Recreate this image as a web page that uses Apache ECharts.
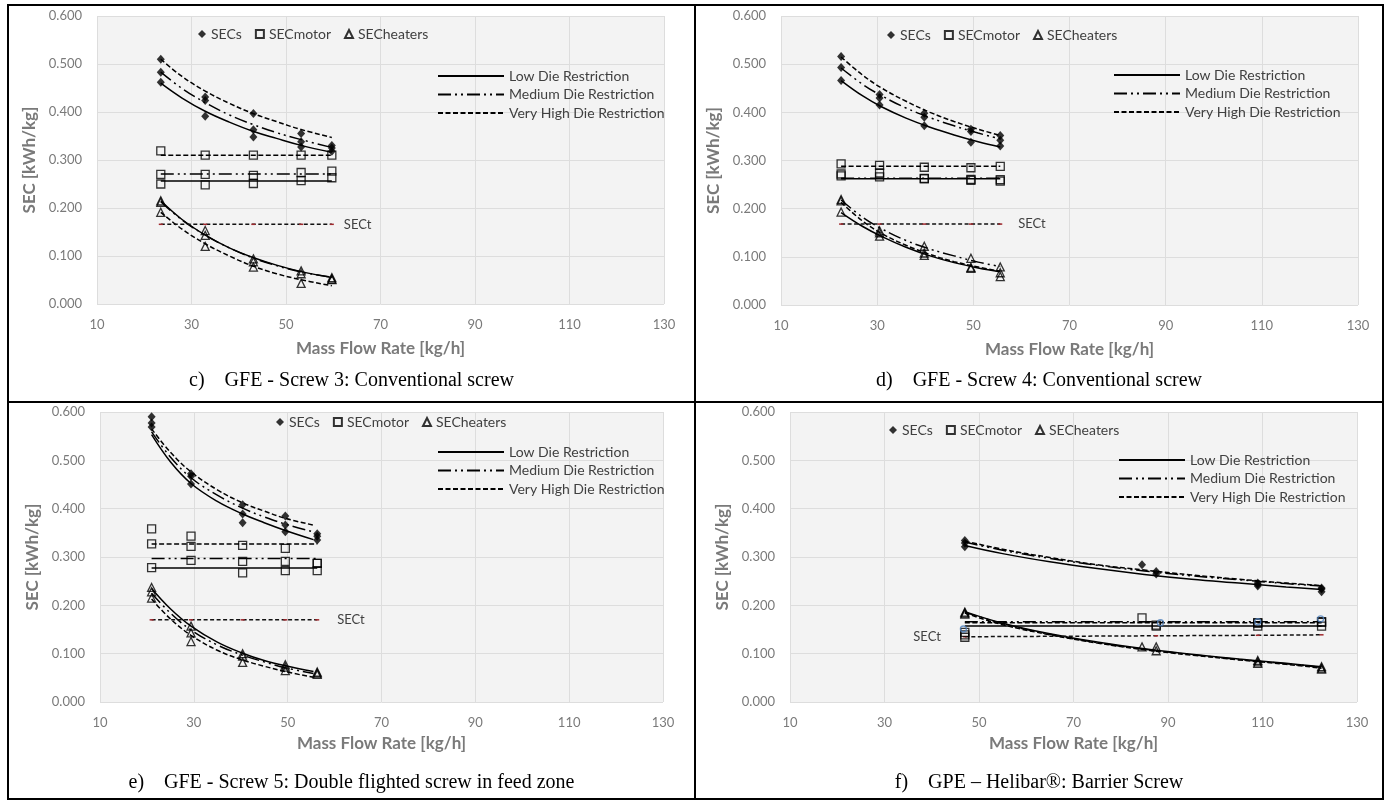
<!DOCTYPE html>
<html>
<head>
<meta charset="utf-8">
<script src="https://cdn.jsdelivr.net/npm/echarts@6/dist/echarts.min.js"></script>
<style>
  body { margin: 0; background: #fff; width: 1387px; height: 804px; position: relative; overflow: hidden; }
  .chart { position: absolute; }
  .rule { position: absolute; background: #000; }
  .cap { position: absolute; font-family: "Liberation Serif", serif; font-size: 20px; color: #000;
         white-space: pre; text-align: center; }
</style>
</head>
<body>
<div id="chartC" class="chart" style="left:0;top:0;width:695px;height:400px"></div>
<div id="chartD" class="chart" style="left:695px;top:0;width:692px;height:400px"></div>
<div id="chartE" class="chart" style="left:0;top:402px;width:695px;height:398px"></div>
<div id="chartF" class="chart" style="left:695px;top:402px;width:692px;height:398px"></div>

<div class="rule" style="left:7px;top:4px;width:1377px;height:2px"></div>
<div class="rule" style="left:7px;top:798px;width:1377px;height:2px"></div>
<div class="rule" style="left:7px;top:4px;width:2px;height:796px"></div>
<div class="rule" style="left:1382px;top:4px;width:2px;height:796px"></div>
<div class="rule" style="left:694px;top:4px;width:2px;height:796px"></div>
<div class="rule" style="left:7px;top:401px;width:1377px;height:2px"></div>

<div class="cap" style="left:9px;width:685px;top:368px">c)    GFE - Screw 3: Conventional screw</div>
<div class="cap" style="left:696px;width:686px;top:368px">d)    GFE - Screw 4: Conventional screw</div>
<div class="cap" style="left:9px;width:685px;top:770px">e)    GFE - Screw 5: Double flighted screw in feed zone</div>
<div class="cap" style="left:696px;width:686px;top:770px">f)    GPE – Helibar®: Barrier Screw</div>

<script>
// rows in every 3-row array: [Low, Medium, Very High] die restriction

// c) GFE - Screw 3
var cFlow = [23.5, 32.9, 43.1, 53.2, 59.7];
var cSecs = [[0.462, 0.391, 0.348, 0.327, 0.318],
             [0.483, 0.424, 0.363, 0.338, 0.325],
             [0.510, 0.431, 0.397, 0.355, 0.330]];
var cMotor = [[0.250, 0.248, 0.251, 0.257, 0.263],
              [0.270, 0.270, 0.268, 0.274, 0.277],
              [0.319, 0.310, 0.310, 0.310, 0.310]];
var cHeat = [[0.215, 0.143, 0.094, 0.069, 0.055],
             [0.212, 0.153, 0.088, 0.063, 0.051],
             [0.191, 0.120, 0.077, 0.043, 0.052]];
var cFitX = [23.5, 28, 33, 38, 43, 48, 53, 59.7];
var cSecsFit = [[0.460, 0.429, 0.401, 0.379, 0.360, 0.345, 0.331, 0.316],
                [0.483, 0.449, 0.419, 0.394, 0.374, 0.357, 0.343, 0.326],
                [0.510, 0.474, 0.443, 0.418, 0.397, 0.380, 0.364, 0.347]];
var cHeatFit = [[0.215, 0.176, 0.143, 0.117, 0.097, 0.081, 0.068, 0.055],
                [0.213, 0.175, 0.143, 0.117, 0.096, 0.080, 0.067, 0.056],
                [0.191, 0.156, 0.125, 0.100, 0.079, 0.063, 0.051, 0.038]];
var cMotorFit = [0.256, 0.271, 0.310];
var cSect = [0.166, 0.166, 0.166, 0.166, 0.166];

// d) GFE - Screw 4
var dFlow = [22.5, 30.5, 39.8, 49.5, 55.6];
var dSecs = [[0.466, 0.415, 0.372, 0.338, 0.330],
             [0.493, 0.430, 0.390, 0.360, 0.342],
             [0.516, 0.437, 0.398, 0.365, 0.352]];
var dMotor = [[0.268, 0.266, 0.262, 0.259, 0.257],
              [0.272, 0.274, 0.263, 0.261, 0.260],
              [0.293, 0.290, 0.286, 0.285, 0.288]];
var dHeat = [[0.193, 0.143, 0.103, 0.076, 0.067],
             [0.219, 0.154, 0.122, 0.097, 0.079],
             [0.216, 0.150, 0.108, 0.078, 0.059]];
var dFitX = [22.5, 27, 31, 36, 41, 46, 51, 55.6];
var dSecsFit = [[0.466, 0.434, 0.411, 0.388, 0.369, 0.353, 0.339, 0.328],
                [0.492, 0.458, 0.434, 0.409, 0.389, 0.372, 0.357, 0.345],
                [0.515, 0.477, 0.450, 0.423, 0.400, 0.381, 0.365, 0.352]];
var dHeatFit = [[0.192, 0.163, 0.142, 0.120, 0.102, 0.088, 0.077, 0.069],
                [0.218, 0.182, 0.158, 0.134, 0.116, 0.102, 0.089, 0.080],
                [0.213, 0.174, 0.148, 0.124, 0.105, 0.090, 0.079, 0.070]];
var dMotorFit = [0.262, 0.263, 0.288];
var dSect = [0.168, 0.168, 0.168, 0.168, 0.168];

// e) GFE - Screw 5
var eFlow = [21, 29.4, 40.4, 49.5, 56.3];
var eSecs = [[0.569, 0.451, 0.371, 0.352, 0.335],
             [0.577, 0.467, 0.389, 0.366, 0.343],
             [0.590, 0.472, 0.408, 0.385, 0.348]];
var eMotor = [[0.278, 0.293, 0.267, 0.272, 0.272],
              [0.327, 0.322, 0.291, 0.291, 0.287],
              [0.358, 0.343, 0.324, 0.318, 0.287]];
var eHeat = [[0.237, 0.157, 0.100, 0.077, 0.062],
             [0.228, 0.143, 0.095, 0.072, 0.060],
             [0.215, 0.125, 0.082, 0.065, 0.057]];
var eFitX = [21, 25, 29.4, 35, 40.4, 45, 49.5, 55.5];
var eSecsFit = [[0.553, 0.497, 0.452, 0.415, 0.389, 0.371, 0.355, 0.336],
                [0.559, 0.507, 0.464, 0.428, 0.401, 0.383, 0.368, 0.352],
                [0.565, 0.517, 0.476, 0.439, 0.412, 0.395, 0.380, 0.366]];
var eHeatFit = [[0.235, 0.193, 0.157, 0.124, 0.101, 0.086, 0.075, 0.063],
                [0.225, 0.184, 0.149, 0.118, 0.097, 0.083, 0.071, 0.059],
                [0.213, 0.172, 0.138, 0.107, 0.087, 0.074, 0.063, 0.051]];
var eMotorFit = [0.277, 0.297, 0.327];
var eSect = [0.170, 0.170, 0.170, 0.170, 0.170];

// f) GPE - Helibar
var fFlow = [[47, 87.5, 109, 122.5],
             [47, 84.5, 109, 122.5],
             [47, 87.5, 109, 122.5]];
var fSecs = [[0.321, 0.265, 0.240, 0.228],
             [0.329, 0.284, 0.243, 0.234],
             [0.334, 0.270, 0.246, 0.236]];
var fMotor = [[0.139, 0.157, 0.157, 0.157],
              [0.144, 0.174, 0.164, 0.166],
              [0.134, 0.159, 0.163, 0.165]];
var fHeat = [[0.184, 0.106, 0.086, 0.073],
             [0.186, 0.114, 0.080, 0.068],
             [0.182, 0.114, 0.083, 0.070]];
var fFitX = [47, 55, 65, 75, 85, 95, 105, 115, 122.5];
var fSecsFit = [[0.324, 0.307, 0.290, 0.276, 0.264, 0.254, 0.246, 0.238, 0.233],
                [0.331, 0.314, 0.297, 0.283, 0.271, 0.261, 0.253, 0.245, 0.240],
                [0.333, 0.316, 0.299, 0.284, 0.273, 0.263, 0.254, 0.246, 0.241]];
var fHeatFit = [[0.187, 0.163, 0.141, 0.124, 0.110, 0.099, 0.089, 0.080, 0.073],
                [0.186, 0.162, 0.140, 0.123, 0.109, 0.098, 0.088, 0.079, 0.072],
                [0.184, 0.160, 0.139, 0.122, 0.108, 0.097, 0.087, 0.078, 0.070]];
var fMotorFit = [0.157, 0.166, 0.164];
var fSectX = [47, 87.5, 109, 122.5];
var fSect = [0.135, 0.137, 0.138, 0.139];
var fBlueX = [46.7, 88.4, 109, 122.3];
var fBlue = [0.151, 0.164, 0.166, 0.172];

var xTicks = [10, 30, 50, 70, 90, 110, 130];
var yTicks = [0, 0.1, 0.2, 0.3, 0.4, 0.5, 0.6];

var FONT = 'Lato, "Open Sans", sans-serif';
var DIE = ['Low Die Restriction', 'Medium Die Restriction', 'Very High Die Restriction'];
var DASH = ['solid', [13, 4, 2, 4, 2, 4], [5, 2.5]];

function pairs(xs, ys) {
  return ys.map(function (v, i) { return [xs[i], v]; });
}

function buildOption(p) {
  var series = [];
  var k;
  for (k = 0; k < 3; k++) {
    var ls = { color: '#000', width: 1.5, type: DASH[k] };
    series.push({ type: 'line', name: DIE[k], data: pairs(p.fitX, p.secsFit[k]), smooth: 0.4,
                  symbol: 'none', lineStyle: ls, z: 3, silent: true });
    series.push({ type: 'line', name: DIE[k], data: pairs(p.fitX, p.heatFit[k]), smooth: 0.4,
                  symbol: 'none', lineStyle: ls, z: 3, silent: true });
    var xs = p.flow[k];
    series.push({ type: 'line', name: DIE[k], symbol: 'none', lineStyle: ls, z: 3, silent: true,
                  data: [[xs[0], p.motorFit[k]], [xs[xs.length - 1], p.motorFit[k]]] });
  }
  var secsPts = [], motorPts = [], heatPts = [];
  for (k = 0; k < 3; k++) {
    secsPts = secsPts.concat(pairs(p.flow[k], p.secs[k]));
    motorPts = motorPts.concat(pairs(p.flow[k], p.motor[k]));
    heatPts = heatPts.concat(pairs(p.flow[k], p.heat[k]));
  }
  var open = { color: 'rgba(255,255,255,0)', borderColor: '#000', borderWidth: 1.3 };
  series.push({ type: 'scatter', name: 'SECs', symbol: 'diamond', symbolSize: [8, 9],
                itemStyle: { color: '#000' }, data: secsPts, z: 5 });
  series.push({ type: 'scatter', name: 'SECmotor', symbol: 'rect', symbolSize: 8,
                itemStyle: open, data: motorPts, z: 5 });
  series.push({ type: 'scatter', name: 'SECheaters', symbol: 'triangle', symbolSize: 8,
                itemStyle: open, data: heatPts, z: 5 });
  if (p.blue) {
    series.push({ type: 'scatter', name: 'blue', symbol: 'circle', symbolSize: 6,
                  itemStyle: { color: 'rgba(255,255,255,0)', borderColor: '#4f81bd', borderWidth: 1.3 },
                  data: pairs(p.blueX, p.blue), z: 6 });
  }
  var labelAt = p.sectSide === 'left' ? 0 : p.sectX.length - 1;
  series.push({
    type: 'line', name: 'SECt', symbol: 'rect', symbolSize: [4, 1.5], z: 4,
    itemStyle: { color: '#a0282d' },
    lineStyle: { color: '#111', width: 1.5, type: [4, 2.5] },
    data: p.sect.map(function (v, i) {
      var item = { value: [p.sectX[i], v] };
      if (i === labelAt) {
        item.label = { show: true, formatter: 'SECt', position: p.sectSide, distance: p.sectGap,
                       color: '#404040', fontSize: 13, fontFamily: FONT };
      }
      return item;
    })
  });

  var grey = '#7a7a7a';
  return {
    animation: false,
    textStyle: { fontFamily: FONT },
    grid: { left: p.grid[0], top: p.grid[1], width: p.grid[2], height: p.grid[3],
            show: true, backgroundColor: '#f3f3f3', borderWidth: 0 },
    legend: [
      { data: ['SECs', 'SECmotor', 'SECheaters'], left: p.markLeg[0], top: p.markLeg[1],
        itemWidth: 8, itemHeight: 8, itemGap: 13, selectedMode: false,
        textStyle: { color: '#404040', fontSize: 14, fontFamily: FONT } },
      { data: DIE, orient: 'vertical', left: p.lineLeg[0], top: p.lineLeg[1],
        itemWidth: 66, itemHeight: 14, itemGap: 4.5, selectedMode: false,
        itemStyle: { opacity: 0 },
        textStyle: { color: '#404040', fontSize: 14, fontFamily: FONT } }
    ],
    xAxis: {
      type: 'value', min: xTicks[0], max: xTicks[xTicks.length - 1], interval: xTicks[1] - xTicks[0],
      axisLine: { show: false }, axisTick: { show: false },
      splitLine: { show: true, lineStyle: { color: '#dddddd', width: 1 } },
      axisLabel: { color: grey, fontSize: 13, margin: 14, fontFamily: FONT },
      name: 'Mass Flow Rate [kg/h]', nameLocation: 'middle', nameGap: p.xNameGap,
      nameTextStyle: { color: grey, fontSize: 17, fontWeight: 'bold', fontFamily: FONT }
    },
    yAxis: {
      type: 'value', min: yTicks[0], max: yTicks[yTicks.length - 1], interval: yTicks[1] - yTicks[0],
      axisLine: { show: false }, axisTick: { show: false },
      splitLine: { show: true, lineStyle: { color: '#dddddd', width: 1 } },
      axisLabel: { color: grey, fontSize: 13, margin: 15, fontFamily: FONT,
                   formatter: function (v) { return v.toFixed(3); } },
      name: 'SEC [kWh/kg]', nameLocation: 'middle', nameGap: 47,
      nameTextStyle: { color: grey, fontSize: 17, fontWeight: 'bold', fontFamily: FONT }
    },
    series: series
  };
}

var panels = [
  { id: 'chartC', grid: [97, 16, 567, 288], markLeg: [193, 22], lineLeg: [432, 64], xNameGap: 36,
    flow: [cFlow, cFlow, cFlow], secs: cSecs, motor: cMotor, heat: cHeat,
    fitX: cFitX, secsFit: cSecsFit, heatFit: cHeatFit, motorFit: cMotorFit,
    sectX: cFlow, sect: cSect, sectSide: 'right', sectGap: 10 },
  { id: 'chartD', grid: [86, 16, 577, 289], markLeg: [187, 23], lineLeg: [413, 63], xNameGap: 36,
    flow: [dFlow, dFlow, dFlow], secs: dSecs, motor: dMotor, heat: dHeat,
    fitX: dFitX, secsFit: dSecsFit, heatFit: dHeatFit, motorFit: dMotorFit,
    sectX: dFlow, sect: dSect, sectSide: 'right', sectGap: 16 },
  { id: 'chartE', grid: [100, 10, 563, 290], markLeg: [271, 8], lineLeg: [432, 38], xNameGap: 33,
    flow: [eFlow, eFlow, eFlow], secs: eSecs, motor: eMotor, heat: eHeat,
    fitX: eFitX, secsFit: eSecsFit, heatFit: eHeatFit, motorFit: eMotorFit,
    sectX: eFlow, sect: eSect, sectSide: 'right', sectGap: 18 },
  { id: 'chartF', grid: [95, 10, 567, 290], markLeg: [189, 16], lineLeg: [418, 46], xNameGap: 33,
    flow: fFlow, secs: fSecs, motor: fMotor, heat: fHeat,
    fitX: fFitX, secsFit: fSecsFit, heatFit: fHeatFit, motorFit: fMotorFit,
    sectX: fSectX, sect: fSect, sectSide: 'left', sectGap: 22,
    blueX: fBlueX, blue: fBlue }
];

panels.forEach(function (p) {
  var chart = echarts.init(document.getElementById(p.id), null, { renderer: 'canvas' });
  chart.setOption(buildOption(p));
});
</script>
</body>
</html>
